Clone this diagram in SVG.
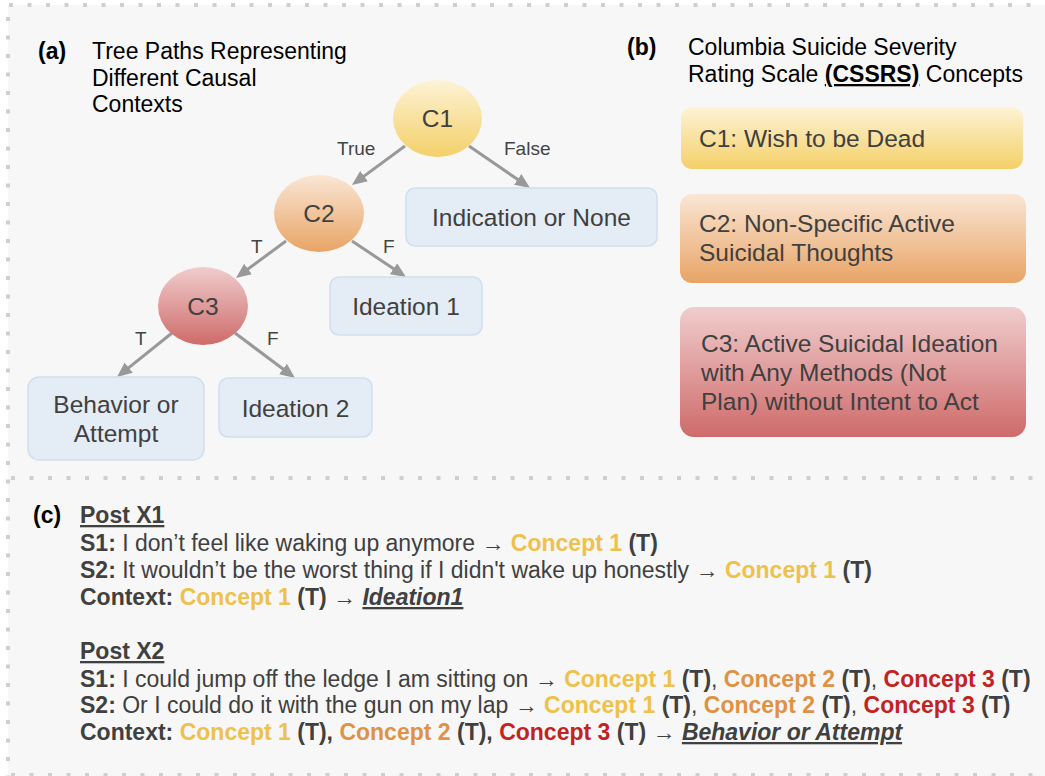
<svg xmlns="http://www.w3.org/2000/svg" width="1045" height="776" viewBox="0 0 1045 776">
<defs>
<linearGradient id="gy" x1="0" y1="0" x2="0" y2="1"><stop offset="0" stop-color="#fdf3d6"/><stop offset="1" stop-color="#f4d068"/></linearGradient>
<linearGradient id="go" x1="0" y1="0" x2="0" y2="1"><stop offset="0" stop-color="#fae6d5"/><stop offset="1" stop-color="#e8a465"/></linearGradient>
<linearGradient id="gr" x1="0" y1="0" x2="0" y2="1"><stop offset="0" stop-color="#f0cdcd"/><stop offset="1" stop-color="#cf6a6a"/></linearGradient>
<marker id="ah" markerUnits="userSpaceOnUse" markerWidth="16" markerHeight="14" refX="5" refY="6.5" orient="auto"><path d="M0,0 L15,6.5 L0,13 z" fill="#999"/></marker>
</defs>
<style>
text{font-family:"Liberation Sans",Arial,Helvetica,sans-serif;}
.ttl{font-size:23px;fill:#000;}
.lbl{font-size:23px;font-weight:bold;fill:#000;}
.nt{font-size:24.5px;fill:#404040;}
.el{font-size:19px;fill:#444;}
.bx{fill:#e4ecf5;stroke:#cfdff0;stroke-width:1.5;}
.edge{stroke:#999;stroke-width:3;fill:none;marker-end:url(#ah);}
.dots{stroke:#cfcfcf;stroke-width:4;stroke-dasharray:4 14.5;fill:none;}
.c{font-size:23px;fill:#404040;}
.b{font-weight:bold;}
.y{font-weight:bold;fill:#eec14c;}
.o{font-weight:bold;fill:#df9245;}
.r{font-weight:bold;fill:#c3231f;}
.u{text-decoration:underline;}
</style>
<rect x="0" y="0" width="1045" height="776" fill="#ffffff"/>
<rect x="8" y="5" width="1037" height="771" fill="#f7f7f7"/>
<g id="borders">
<line class="dots" x1="9" y1="5" x2="1045" y2="5"/>
<line class="dots" x1="8" y1="17" x2="8" y2="776"/>
<line class="dots" x1="11" y1="478" x2="1045" y2="478"/>
<line class="dots" x1="11" y1="775" x2="1045" y2="775"/>
</g>
<g id="panel-a-title">
<text class="lbl" x="38" y="59">(a)</text>
<text class="ttl" x="92" y="59">Tree Paths Representing</text>
<text class="ttl" x="92" y="85.5">Different Causal</text>
<text class="ttl" x="92" y="112">Contexts</text>
</g>
<g id="connectors">
<line class="edge" x1="405" y1="146" x2="360" y2="179.1"/>
<line class="edge" x1="469" y1="146" x2="521.8" y2="182.3"/>
<line class="edge" x1="286" y1="241" x2="244" y2="272"/>
<line class="edge" x1="352" y1="241" x2="397.7" y2="271.5"/>
<line class="edge" x1="172" y1="333" x2="124.8" y2="370.8"/>
<line class="edge" x1="235" y1="333" x2="287" y2="372"/>
<text class="el" x="337" y="155">True</text>
<text class="el" x="504" y="155">False</text>
<text class="el" x="251" y="253">T</text>
<text class="el" x="383" y="253">F</text>
<text class="el" x="135" y="345">T</text>
<text class="el" x="267" y="345">F</text>
</g>
<g id="node-c1">
<ellipse cx="437.5" cy="118.5" rx="44.5" ry="38.5" fill="url(#gy)"/>
<text class="nt" x="437.5" y="127" text-anchor="middle">C1</text>
</g>
<g id="node-c2">
<ellipse cx="319" cy="213.5" rx="45" ry="38.5" fill="url(#go)"/>
<text class="nt" x="319" y="222" text-anchor="middle">C2</text>
</g>
<g id="node-c3">
<ellipse cx="203" cy="306" rx="45" ry="39" fill="url(#gr)"/>
<text class="nt" x="203" y="314.5" text-anchor="middle">C3</text>
</g>
<g id="node-indication">
<rect class="bx" x="406" y="188" width="251" height="58" rx="9"/>
<text class="nt" x="531.5" y="226" text-anchor="middle">Indication or None</text>
</g>
<g id="node-ideation1">
<rect class="bx" x="330" y="277" width="152" height="58" rx="9"/>
<text class="nt" x="406" y="315" text-anchor="middle">Ideation 1</text>
</g>
<g id="node-behavior">
<rect class="bx" x="28" y="377" width="176" height="83" rx="11"/>
<text class="nt" x="116" y="413" text-anchor="middle">Behavior or</text>
<text class="nt" x="116" y="442" text-anchor="middle">Attempt</text>
</g>
<g id="node-ideation2">
<rect class="bx" x="219" y="378" width="153" height="59" rx="9"/>
<text class="nt" x="295.5" y="417" text-anchor="middle">Ideation 2</text>
</g>
<g id="panel-b-title">
<text class="lbl" x="627" y="55">(b)</text>
<text class="ttl" x="688" y="55">Columbia Suicide Severity</text>
<text class="ttl" x="688" y="82">Rating Scale <tspan class="b u">(CSSRS)</tspan> Concepts</text>
</g>
<g id="concept-c1">
<rect x="681" y="107" width="342" height="62" rx="11" fill="url(#gy)"/>
<text class="nt" x="699" y="147">C1: Wish to be Dead</text>
</g>
<g id="concept-c2">
<rect x="680" y="194" width="346" height="89" rx="12" fill="url(#go)"/>
<text class="nt" x="699" y="232">C2: Non-Specific Active</text>
<text class="nt" x="699" y="261">Suicidal Thoughts</text>
</g>
<g id="concept-c3">
<rect x="680" y="307" width="346" height="130" rx="14" fill="url(#gr)"/>
<text class="nt" x="701" y="352">C3: Active Suicidal Ideation</text>
<text class="nt" x="701" y="381">with Any Methods (Not</text>
<text class="nt" x="701" y="410">Plan) without Intent to Act</text>
</g>
<g id="panel-c">
<text class="lbl" x="33" y="523">(c)</text>
<text class="c b u" x="80" y="523">Post X1</text>
<text class="c" x="80" y="551"><tspan class="b">S1:</tspan> I don’t feel like waking up anymore → <tspan class="y">Concept 1</tspan> <tspan class="b">(T)</tspan></text>
<text class="c" x="80" y="578"><tspan class="b">S2:</tspan> It wouldn’t be the worst thing if I didn't wake up honestly → <tspan class="y">Concept 1</tspan> <tspan class="b">(T)</tspan></text>
<text class="c" x="80" y="605"><tspan class="b">Context:</tspan> <tspan class="y">Concept 1</tspan> <tspan class="b">(T)</tspan> → <tspan class="b u" font-style="italic">Ideation1</tspan></text>
<text class="c b u" x="80" y="659">Post X2</text>
<text class="c" x="80" y="687"><tspan class="b">S1:</tspan> I could jump off the ledge I am sitting on → <tspan class="y">Concept 1</tspan> <tspan class="b">(T)</tspan>, <tspan class="o">Concept 2</tspan> <tspan class="b">(T)</tspan>, <tspan class="r">Concept 3</tspan> <tspan class="b">(T)</tspan></text>
<text class="c" x="80" y="713"><tspan class="b">S2:</tspan> Or I could do it with the gun on my lap → <tspan class="y">Concept 1</tspan> <tspan class="b">(T)</tspan>, <tspan class="o">Concept 2</tspan> <tspan class="b">(T)</tspan>, <tspan class="r">Concept 3</tspan> <tspan class="b">(T)</tspan></text>
<text class="c" x="80" y="740"><tspan class="b">Context:</tspan> <tspan class="y">Concept 1</tspan> <tspan class="b">(T),</tspan> <tspan class="o">Concept 2</tspan> <tspan class="b">(T),</tspan> <tspan class="r">Concept 3</tspan> <tspan class="b">(T)</tspan> → <tspan class="b u" font-style="italic">Behavior or Attempt</tspan></text>
</g>
</svg>
